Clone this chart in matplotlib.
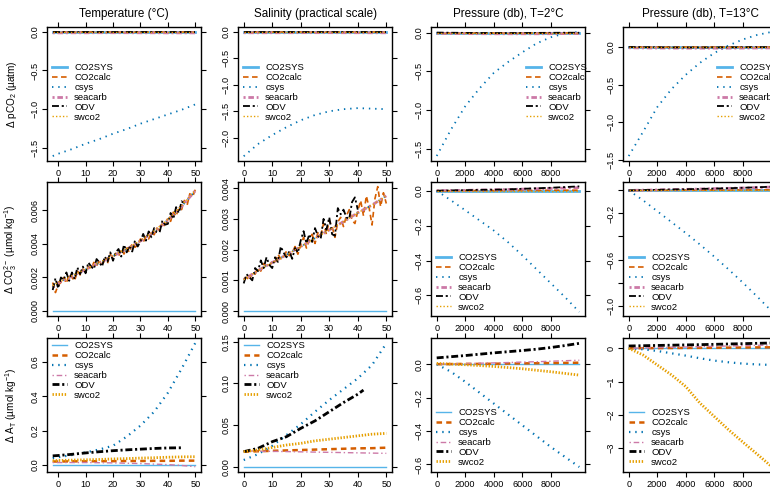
import matplotlib
matplotlib.use('Agg')
import matplotlib.pyplot as plt
from matplotlib.lines import Line2D

plt.rcParams['font.family'] = ['Liberation Sans', 'DejaVu Sans']
plt.rcParams['mathtext.fontset'] = 'custom'
plt.rcParams['mathtext.rm'] = 'Liberation Sans'
plt.rcParams['mathtext.it'] = 'Liberation Sans:italic'
plt.rcParams['lines.scale_dashes'] = False

# ---- x grids ----
t5 = [-2, 0, 5, 10, 15, 20, 25, 30, 35, 40, 45, 50]
t1 = list(range(-2, 51))
t_odv = list(range(-2, 47))
s5 = [0, 5, 10, 15, 20, 25, 30, 35, 40, 45, 50]
s1 = list(range(0, 51))
s_odv = list(range(0, 41))
p = [0, 1000, 2000, 3000, 4000, 5000, 6000, 7000, 8000, 9000, 10000]

# ---- row 1 : delta pCO2 ----
r1_t_csys = [-1.61, -1.58, -1.52, -1.45, -1.39, -1.32, -1.26, -1.19, -1.13, -1.07, -1.01, -0.94]
r1_t_zero = [0.0, 0.0, 0.0, 0.0, 0.0, 0.0, 0.0, 0.0, 0.0, 0.0, 0.0, 0.0]
r1_t_seacarb = [-0.012, -0.012, -0.011, -0.011, -0.010, -0.010, -0.010, -0.011, -0.011, -0.012, -0.012, -0.012]
r1_s_csys = [-2.35, -2.12, -1.95, -1.80, -1.67, -1.57, -1.50, -1.46, -1.44, -1.45, -1.46]
r1_s_zero = [0.0, 0.0, 0.0, 0.0, 0.0, 0.0, 0.0, 0.0, 0.0, 0.0, 0.0]
r1_s_seacarb = [-0.015, -0.015, -0.014, -0.014, -0.013, -0.013, -0.013, -0.014, -0.014, -0.015, -0.015]
r1_p2_csys = [-1.59, -1.25, -0.95, -0.72, -0.52, -0.38, -0.255, -0.14, -0.06, -0.01, 0.01]
r1_p13_csys = [-1.45, -1.13, -0.80, -0.56, -0.37, -0.21, -0.08, 0.02, 0.10, 0.16, 0.20]
r1_p_zero = [0.0, 0.0, 0.0, 0.0, 0.0, 0.0, 0.0, 0.0, 0.0, 0.0, 0.0]
r1_p_seacarb = [-0.01, -0.012, -0.013, -0.014, -0.015, -0.015, -0.015, -0.015, -0.014, -0.013, -0.012]
r1_p_odv = [0.0, -0.002, -0.004, -0.005, -0.006, -0.006, -0.005, -0.004, -0.003, -0.002, -0.002]

# ---- row 2 : delta CO3 ----
r2_t_smooth = [0.00142, 0.00168, 0.00208, 0.00248, 0.00288, 0.00328, 0.00369, 0.00418,
               0.00474, 0.00543, 0.00624, 0.00718]
r2_t_swco2 = [0.00150, 0.00172, 0.00210, 0.00250, 0.00290, 0.00330, 0.00372, 0.00421,
              0.00478, 0.00547, 0.00628, 0.00722]
r2_t_odv = [0.00125, 0.00195, 0.00135, 0.00200, 0.00185, 0.00230, 0.00180, 0.00230, 0.00190,
            0.00260, 0.00220, 0.00265, 0.00225, 0.00290, 0.00265, 0.00250, 0.00310, 0.00290,
            0.00265, 0.00325, 0.00295, 0.00350, 0.00300, 0.00350, 0.00370, 0.00325, 0.00395,
            0.00350, 0.00390, 0.00355, 0.00420, 0.00385, 0.00415, 0.00460, 0.00420, 0.00475,
            0.00440, 0.00495, 0.00470, 0.00470, 0.00540, 0.00515, 0.00520, 0.00585, 0.00550,
            0.00620, 0.00585, 0.00655, 0.00640]
r2_t_co2calc = [0.00170, 0.00110, 0.00155, 0.00170, 0.00200, 0.00165, 0.00220, 0.00200, 0.00180,
                0.00240, 0.00215, 0.00250, 0.00235, 0.00265, 0.00250, 0.00290, 0.00270, 0.00300,
                0.00280, 0.00300, 0.00285, 0.00340, 0.00310, 0.00345, 0.00325, 0.00370, 0.00340,
                0.00375, 0.00350, 0.00405, 0.00380, 0.00395, 0.00430, 0.00410, 0.00445, 0.00430,
                0.00470, 0.00455, 0.00495, 0.00480, 0.00520, 0.00505, 0.00555, 0.00535, 0.00590,
                0.00565, 0.00620, 0.00605, 0.00660, 0.00630, 0.00700, 0.00680, 0.00725]
r2_s_smooth = [0.00102, 0.00132, 0.00158, 0.00183, 0.00210, 0.00237, 0.00264, 0.00291,
               0.00320, 0.00345, 0.00375]
r2_s_odv = [0.00090, 0.00120, 0.00110, 0.00100, 0.00140, 0.00130, 0.00165, 0.00140, 0.00175,
            0.00150, 0.00140, 0.00175, 0.00160, 0.00210, 0.00190, 0.00175, 0.00195, 0.00170,
            0.00205, 0.00190, 0.00230, 0.00260, 0.00220, 0.00250, 0.00225, 0.00270, 0.00245,
            0.00235, 0.00300, 0.00265, 0.00305, 0.00250, 0.00245, 0.00335, 0.00315, 0.00330,
            0.00305, 0.00300, 0.00355, 0.00370, 0.00330]
r2_s_co2calc = [0.00105, 0.00110, 0.00100, 0.00125, 0.00120, 0.00140, 0.00130, 0.00155, 0.00145,
                0.00150, 0.00160, 0.00155, 0.00185, 0.00170, 0.00175, 0.00195, 0.00180, 0.00190,
                0.00210, 0.00185, 0.00215, 0.00240, 0.00205, 0.00230, 0.00250, 0.00220, 0.00255,
                0.00245, 0.00285, 0.00250, 0.00295, 0.00275, 0.00240, 0.00290, 0.00305, 0.00275,
                0.00310, 0.00330, 0.00295, 0.00285, 0.00325, 0.00360, 0.00310, 0.00375, 0.00335,
                0.00280, 0.00365, 0.00405, 0.00340, 0.00385, 0.00350]
r2_zero_t = [0.0] * len(t5)
r2_zero_s = [0.0] * len(s5)
r2_p2_csys = [0.0, -0.055, -0.112, -0.17, -0.228, -0.295, -0.37, -0.45, -0.53, -0.61, -0.695]
r2_p2_odv = [0.0, 0.002, 0.003, 0.005, 0.006, 0.008, 0.011, 0.014, 0.017, 0.021, 0.025]
r2_p2_seacarb = [0.0, 0.001, 0.002, 0.004, 0.005, 0.007, 0.009, 0.011, 0.013, 0.015, 0.018]
r2_p2_co2calc = [0.0, 0.0, 0.001, 0.001, 0.001, 0.002, 0.002, 0.002, 0.003, 0.003, 0.003]
r2_p13_csys = [0.0, -0.085, -0.18, -0.275, -0.37, -0.47, -0.575, -0.685, -0.80, -0.92, -1.045]
r2_p13_odv = [0.0, 0.003, 0.005, 0.008, 0.010, 0.013, 0.016, 0.019, 0.023, 0.027, 0.032]
r2_p13_seacarb = [0.0, 0.002, 0.004, 0.007, 0.009, 0.012, 0.015, 0.018, 0.021, 0.025, 0.029]
r2_p13_co2calc = [0.0, 0.0, 0.001, 0.001, 0.002, 0.002, 0.003, 0.003, 0.004, 0.004, 0.005]
r2_zero_p = [0.0] * len(p)

# ---- row 3 : delta AT ----
r3_t_csys = [0.04, 0.045, 0.058, 0.073, 0.09, 0.112, 0.165, 0.229, 0.31, 0.42, 0.56, 0.71]
r3_t_odv = [0.053, 0.055, 0.062, 0.070, 0.077, 0.083, 0.088, 0.092, 0.096, 0.099, 0.100]
r3_t_odv_x = [-2, 0, 5, 10, 15, 20, 25, 30, 35, 40, 45]
r3_t_swco2 = [0.025, 0.026, 0.028, 0.030, 0.032, 0.035, 0.037, 0.040, 0.042, 0.045, 0.047, 0.048]
r3_t_co2calc = [0.020, 0.020, 0.021, 0.021, 0.022, 0.022, 0.023, 0.023, 0.024, 0.024, 0.025, 0.025]
r3_t_seacarb = [0.014, 0.014, 0.014, 0.014, 0.013, 0.012, 0.010, 0.008, 0.005, 0.002, -0.003, -0.010]
r3_s_csys = [0.008, 0.015, 0.025, 0.038, 0.051, 0.066, 0.080, 0.093, 0.106, 0.122, 0.148]
r3_s_odv = [0.018, 0.022, 0.030, 0.036, 0.046, 0.055, 0.066, 0.077, 0.087, 0.092]
r3_s_odv_x = [0, 5, 10, 15, 20, 25, 30, 35, 40, 42]
r3_s_swco2 = [0.018, 0.020, 0.023, 0.026, 0.028, 0.031, 0.033, 0.035, 0.037, 0.039, 0.040]
r3_s_co2calc = [0.018, 0.0185, 0.019, 0.0195, 0.020, 0.0205, 0.021, 0.0215, 0.022, 0.0222, 0.0228]
r3_s_seacarb = [0.019, 0.0187, 0.0184, 0.0181, 0.0178, 0.0175, 0.0172, 0.0169, 0.0166, 0.0163, 0.016]
r3_p2_csys = [0.0, -0.045, -0.105, -0.17, -0.235, -0.30, -0.365, -0.43, -0.495, -0.555, -0.615]
r3_p2_odv = [0.038, 0.045, 0.052, 0.060, 0.068, 0.075, 0.082, 0.090, 0.100, 0.112, 0.125]
r3_p2_swco2 = [0.005, 0.001, -0.003, -0.008, -0.013, -0.020, -0.027, -0.036, -0.045, -0.055, -0.065]
r3_p2_co2calc = [0.0, 0.001, 0.002, 0.002, 0.003, 0.004, 0.005, 0.006, 0.007, 0.008, 0.009]
r3_p2_seacarb = [0.0, 0.002, 0.004, 0.006, 0.008, 0.010, 0.013, 0.015, 0.018, 0.021, 0.024]
r3_p13_csys = [0.0, -0.03, -0.08, -0.15, -0.22, -0.30, -0.37, -0.42, -0.46, -0.485, -0.50]
r3_p13_odv = [0.07, 0.078, 0.086, 0.094, 0.102, 0.110, 0.120, 0.130, 0.140, 0.150, 0.160]
r3_p13_swco2 = [0.0, -0.2, -0.5, -0.8, -1.15, -1.65, -2.05, -2.45, -2.82, -3.18, -3.55]
r3_p13_co2calc = [0.0, 0.003, 0.006, 0.009, 0.012, 0.015, 0.018, 0.021, 0.024, 0.027, 0.030]
r3_p13_seacarb = [0.0, 0.01, 0.02, 0.03, 0.04, 0.05, 0.06, 0.07, 0.08, 0.09, 0.10]

names = ['CO2SYS', 'CO2calc', 'csys', 'seacarb', 'ODV', 'swco2']
colors = {'CO2SYS': '#56B4E9', 'CO2calc': '#D55E00', 'csys': '#0072B2',
          'seacarb': '#CC79A7', 'ODV': 'black', 'swco2': '#E69F00'}
# line styles for rows 1-2 and row 3
style_a = {'CO2SYS': (2.0, None), 'CO2calc': (1.2, (4, 2.5)), 'csys': (1.3, (1, 3.5)),
           'seacarb': (2.0, (1.5, 2, 4, 2)), 'ODV': (1.3, (5, 2, 1.5, 2)), 'swco2': (1.0, (1, 1.5))}
style_b = {'CO2SYS': (1.0, None), 'CO2calc': (1.8, (4, 3)), 'csys': (1.6, (1, 3.5)),
           'seacarb': (1.0, (1, 2, 4, 2)), 'ODV': (2.0, (5, 2, 1.5, 2)), 'swco2': (2.0, (1, 1.2))}

W, H = 770, 491
fig = plt.figure(figsize=(W / 100, H / 100), dpi=100)

col_left = [47, 238, 431, 623]
row_top = [27, 182, 338]
aw, ah = 154, 134

panels = {
    (0, 0): {'CO2SYS': (t5, r1_t_zero), 'CO2calc': (t5, r1_t_zero), 'csys': (t5, r1_t_csys),
             'seacarb': (t5, r1_t_seacarb), 'ODV': (t5, r1_t_zero), 'swco2': (t5, r1_t_zero)},
    (0, 1): {'CO2SYS': (s5, r1_s_zero), 'CO2calc': (s5, r1_s_zero), 'csys': (s5, r1_s_csys),
             'seacarb': (s5, r1_s_seacarb), 'ODV': (s5, r1_s_zero), 'swco2': (s5, r1_s_zero)},
    (0, 2): {'CO2SYS': (p, r1_p_zero), 'CO2calc': (p, r1_p_zero), 'csys': (p, r1_p2_csys),
             'seacarb': (p, r1_p_seacarb), 'ODV': (p, r1_p_odv), 'swco2': (p, r1_p_zero)},
    (0, 3): {'CO2SYS': (p, r1_p_zero), 'CO2calc': (p, r1_p_zero), 'csys': (p, r1_p13_csys),
             'seacarb': (p, r1_p_seacarb), 'ODV': (p, r1_p_odv), 'swco2': (p, r1_p_zero)},
    (1, 0): {'CO2SYS': (t5, r2_zero_t), 'CO2calc': (t1, r2_t_co2calc), 'csys': (t5, r2_t_smooth),
             'seacarb': (t5, r2_t_smooth), 'ODV': (t_odv, r2_t_odv), 'swco2': (t5, r2_t_swco2)},
    (1, 1): {'CO2SYS': (s5, r2_zero_s), 'CO2calc': (s1, r2_s_co2calc), 'csys': (s5, r2_s_smooth),
             'seacarb': (s5, r2_s_smooth), 'ODV': (s_odv, r2_s_odv), 'swco2': (s5, r2_s_smooth)},
    (1, 2): {'CO2SYS': (p, r2_zero_p), 'CO2calc': (p, r2_p2_co2calc), 'csys': (p, r2_p2_csys),
             'seacarb': (p, r2_p2_seacarb), 'ODV': (p, r2_p2_odv), 'swco2': (p, r2_zero_p)},
    (1, 3): {'CO2SYS': (p, r2_zero_p), 'CO2calc': (p, r2_p13_co2calc), 'csys': (p, r2_p13_csys),
             'seacarb': (p, r2_p13_seacarb), 'ODV': (p, r2_p13_odv), 'swco2': (p, r2_zero_p)},
    (2, 0): {'CO2SYS': (t5, r2_zero_t), 'CO2calc': (t5, r3_t_co2calc), 'csys': (t5, r3_t_csys),
             'seacarb': (t5, r3_t_seacarb), 'ODV': (r3_t_odv_x, r3_t_odv), 'swco2': (t5, r3_t_swco2)},
    (2, 1): {'CO2SYS': (s5, r2_zero_s), 'CO2calc': (s5, r3_s_co2calc), 'csys': (s5, r3_s_csys),
             'seacarb': (s5, r3_s_seacarb), 'ODV': (r3_s_odv_x, r3_s_odv), 'swco2': (s5, r3_s_swco2)},
    (2, 2): {'CO2SYS': (p, r2_zero_p), 'CO2calc': (p, r3_p2_co2calc), 'csys': (p, r3_p2_csys),
             'seacarb': (p, r3_p2_seacarb), 'ODV': (p, r3_p2_odv), 'swco2': (p, r3_p2_swco2)},
    (2, 3): {'CO2SYS': (p, r2_zero_p), 'CO2calc': (p, r3_p13_co2calc), 'csys': (p, r3_p13_csys),
             'seacarb': (p, r3_p13_seacarb), 'ODV': (p, r3_p13_odv), 'swco2': (p, r3_p13_swco2)},
}

xlims = [(-4.08, 52.08), (-2, 52), (-400, 10400), (-400, 10400)]
xticks = [[0, 10, 20, 30, 40, 50], [0, 10, 20, 30, 40, 50],
          [0, 2000, 4000, 6000, 8000], [0, 2000, 4000, 6000, 8000]]
ylims = {(0, 0): (-1.674, 0.064), (0, 1): (-2.44, 0.094), (0, 2): (-1.655, 0.072), (0, 3): (-1.516, 0.266),
         (1, 0): (-0.0003, 0.0077), (1, 1): (-0.00016, 0.0042), (1, 2): (-0.718, 0.05), (1, 3): (-1.09, 0.073),
         (2, 0): (-0.041, 0.739), (2, 1): (-0.0064, 0.1545), (2, 2): (-0.645, 0.157), (2, 3): (-3.72, 0.31)}
yticks = {(0, 0): ([0, -0.5, -1, -1.5], ['0.0', '−0.5', '−1.0', '−1.5']),
          (0, 1): ([0, -0.5, -1, -1.5, -2], ['0.0', '−0.5', '−1.0', '−1.5', '−2.0']),
          (0, 2): ([0, -0.5, -1, -1.5], ['0.0', '−0.5', '−1.0', '−1.5']),
          (0, 3): ([0, -0.5, -1, -1.5], ['0.0', '−0.5', '−1.0', '−1.5']),
          (1, 0): ([0, 0.002, 0.004, 0.006], ['0.000', '0.002', '0.004', '0.006']),
          (1, 1): ([0, 0.001, 0.002, 0.003, 0.004], ['0.000', '0.001', '0.002', '0.003', '0.004']),
          (1, 2): ([0, -0.2, -0.4, -0.6], ['0.0', '−0.2', '−0.4', '−0.6']),
          (1, 3): ([0, -0.2, -0.4, -0.6, -0.8, -1.0], ['', '−0.2', '', '−0.6', '', '−1.0']),
          (2, 0): ([0, 0.2, 0.4, 0.6], ['0.0', '0.2', '0.4', '0.6']),
          (2, 1): ([0, 0.05, 0.1, 0.15], ['0.00', '0.05', '0.10', '0.15']),
          (2, 2): ([0, -0.2, -0.4, -0.6], ['0.0', '−0.2', '−0.4', '−0.6']),
          (2, 3): ([0, -1, -2, -3], ['0', '−1', '−2', '−3'])}
# legend anchors (pixel x of line start, pixel y of legend top)
legend_pos = {(0, 0): (52, 63), (0, 1): (243, 63), (0, 2): (526, 63), (0, 3): (717, 63),
              (1, 2): (436, 253), (1, 3): (629, 253),
              (2, 0): (52, 341), (2, 1): (244, 341), (2, 2): (436, 408), (2, 3): (629, 408)}

titles = ['Temperature (°C)', 'Salinity (practical scale)', 'Pressure (db), T=2°C', 'Pressure (db), T=13°C']
ylabels = [r'$\Delta$ pCO$_2$ (µatm)', r'$\Delta$ CO$_3^{2-}$ (µmol kg$^{-1}$)',
           r'$\Delta$ A$_\mathrm{T}$ (µmol kg$^{-1}$)']

for (r, c), series in panels.items():
    ax = fig.add_axes([col_left[c] / W, 1 - (row_top[r] + ah) / H, aw / W, ah / H])
    sty = style_b if r == 2 else style_a
    handles = []
    for n in names:
        lw, dash = sty[n]
        xs, ys = series[n]
        kw = dict(color=colors[n], lw=lw)
        if dash is not None:
            kw['dashes'] = dash
        handles.append(Line2D([], [], **kw))
        if r == 1 and c < 2 and n == 'CO2SYS':
            kw['lw'] = 1.0
        ax.plot(xs, ys, **kw)
    ax.set_xlim(*xlims[c])
    ax.set_ylim(*ylims[(r, c)])
    ax.set_xticks(xticks[c])
    ax.set_xticklabels([str(v) for v in xticks[c]])
    ax.set_yticks(yticks[(r, c)][0])
    ax.set_yticklabels(yticks[(r, c)][1])
    ax.tick_params(direction='out', length=3.5, width=0.8, labelsize=6.6, pad=2,
                   top=True, right=True, labeltop=False, labelright=False)
    for lbl in ax.get_yticklabels():
        lbl.set_rotation(90)
        lbl.set_va('center')
    for sp in ax.spines.values():
        sp.set_linewidth(1.0)
    if c == 0:
        ax.set_ylabel(ylabels[r], fontsize=7.2)
        ax.yaxis.set_label_coords((19 - col_left[0]) / aw, 0.5)
    if (r, c) in legend_pos:
        lx, ly = legend_pos[(r, c)]
        ax.legend(handles, names, loc='upper left', bbox_to_anchor=(lx / W, 1 - ly / H),
                  bbox_transform=fig.transFigure, frameon=False, fontsize=6.8,
                  handlelength=1.6, handletextpad=0.75, labelspacing=0.1,
                  borderpad=0, borderaxespad=0)

for c in range(4):
    fig.text((col_left[c] + aw / 2) / W, 1 - 14 / H, titles[c], ha='center', va='center', fontsize=8.4)

fig.savefig('out.png', dpi=100)
